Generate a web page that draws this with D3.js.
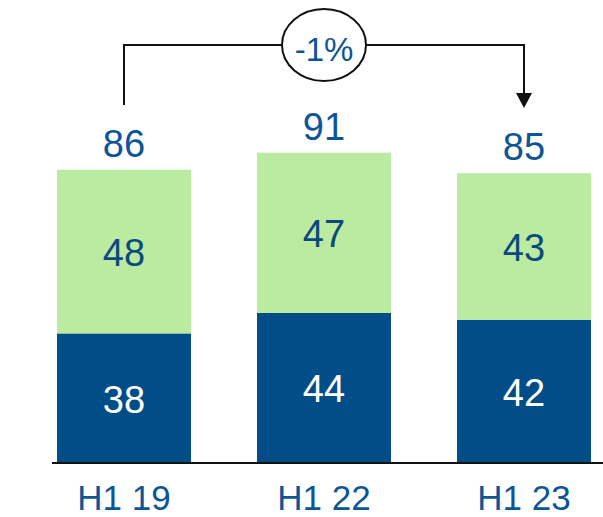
<!DOCTYPE html>
<html>
<head>
<meta charset="utf-8">
<script src="https://cdn.jsdelivr.net/npm/d3@7"></script>
<style>
  body { margin: 0; background: #fff; }
  text { font-family: "Liberation Sans", Arial, sans-serif; }
</style>
</head>
<body>
<div id="chart"></div>
<script>
// chart data
const categories = ["H1 19", "H1 22", "H1 23"];
const lower = [38, 44, 42];
const upper = [48, 47, 43];
const totals = [86, 91, 85];
const changeLabel = "-1%";

const width = 603, height = 517;
const margin = {top: 0, right: 12, bottom: 54, left: 57};
const baseY = height - margin.bottom;

const svg = d3.select("#chart").append("svg")
    .attr("width", width)
    .attr("height", height);

// scales
const x = d3.scaleBand()
    .domain(categories)
    .range([24, 624])
    .paddingInner(0.33)
    .paddingOuter(0.165);

const y = d3.scaleLinear()
    .domain([0, 100])
    .range([baseY, baseY - 341]);

const rows = categories.map((c, i) => ({cat: c, lo: lower[i], hi: upper[i], total: totals[i]}));

const g = svg.append("g");

// dark (bottom) segments
g.selectAll("rect.lo")
  .data(rows)
  .enter().append("rect")
    .attr("class", "lo")
    .attr("x", d => x(d.cat))
    .attr("width", x.bandwidth())
    .attr("y", d => y(d.lo))
    .attr("height", d => y(0) - y(d.lo))
    .attr("fill", "#004d87");

// light (top) segments
g.selectAll("rect.hi")
  .data(rows)
  .enter().append("rect")
    .attr("class", "hi")
    .attr("x", d => x(d.cat))
    .attr("width", x.bandwidth())
    .attr("y", d => y(d.lo + d.hi))
    .attr("height", d => y(d.lo) - y(d.lo + d.hi))
    .attr("fill", "#bbeba1");

// segment labels
g.selectAll("text.lo")
  .data(rows)
  .enter().append("text")
    .attr("x", d => x(d.cat) + x.bandwidth() / 2)
    .attr("y", d => y(d.lo / 2) + 1)
    .attr("dy", "0.35em")
    .attr("text-anchor", "middle")
    .attr("font-size", 38)
    .attr("fill", "#fff")
    .text(d => d.lo);

g.selectAll("text.hi")
  .data(rows)
  .enter().append("text")
    .attr("x", d => x(d.cat) + x.bandwidth() / 2)
    .attr("y", d => y(d.lo + d.hi / 2) + 1)
    .attr("dy", "0.35em")
    .attr("text-anchor", "middle")
    .attr("font-size", 38)
    .attr("fill", "#0b4a7e")
    .text(d => d.hi);

// totals
g.selectAll("text.total")
  .data(rows)
  .enter().append("text")
    .attr("x", d => x(d.cat) + x.bandwidth() / 2)
    .attr("y", d => y(d.total) - 26)
    .attr("dy", "0.35em")
    .attr("text-anchor", "middle")
    .attr("font-size", 38)
    .attr("fill", "#0e5596")
    .text(d => d.total);

// baseline
svg.append("line")
    .attr("x1", 52).attr("x2", width)
    .attr("y1", baseY).attr("y2", baseY)
    .attr("stroke", "#111")
    .attr("stroke-width", 2);

// category axis
const xAxis = svg.append("g")
    .attr("transform", "translate(0," + baseY + ")")
    .call(d3.axisBottom(x).tickSize(0).tickPadding(22));
xAxis.select(".domain").remove();
xAxis.selectAll("text")
    .attr("font-size", 35)
    .attr("font-family", "Liberation Sans, Arial, sans-serif")
    .attr("fill", "#0e5596");

// change bracket
const x0 = x(categories[0]) + x.bandwidth() / 2;
const x2 = x(categories[2]) + x.bandwidth() / 2;
const xm = (x0 + x2) / 2;
const lineY = 45;

svg.append("path")
    .attr("d", `M${x0},105 V${lineY} H${x2} V94`)
    .attr("fill", "none")
    .attr("stroke", "#111")
    .attr("stroke-width", 2);

svg.append("path")
    .attr("d", `M${x2 - 8},93 L${x2 + 8},93 L${x2},108 Z`)
    .attr("fill", "#111");

svg.append("ellipse")
    .attr("cx", xm).attr("cy", lineY)
    .attr("rx", 42).attr("ry", 36)
    .attr("fill", "#fff")
    .attr("stroke", "#111")
    .attr("stroke-width", 2);

svg.append("text")
    .attr("x", xm).attr("y", lineY + 4)
    .attr("dy", "0.35em")
    .attr("text-anchor", "middle")
    .attr("font-size", 33)
    .attr("fill", "#0e5596")
    .text(changeLabel);
</script>
</body>
</html>
